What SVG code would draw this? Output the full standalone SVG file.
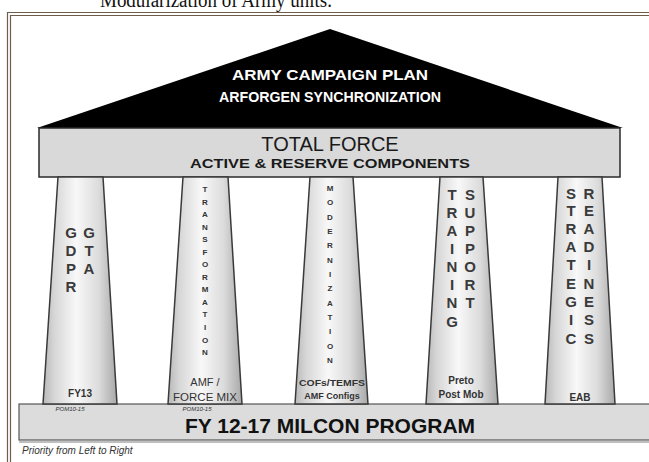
<svg xmlns="http://www.w3.org/2000/svg" width="649" height="462" viewBox="0 0 649 462">
<defs>
<linearGradient id="pg" x1="0" y1="0" x2="1" y2="0">
<stop offset="0" stop-color="#b8b8b8"/>
<stop offset="0.15" stop-color="#d6d6d6"/>
<stop offset="0.45" stop-color="#f8f8f8"/>
<stop offset="0.75" stop-color="#dcdcdc"/>
<stop offset="1" stop-color="#a8a8a8"/>
</linearGradient>
</defs>
<style>
.frame{fill:none;stroke:#6e5d48;stroke-width:1.2}
.pillar{fill:url(#pg);stroke:#3a3a3a;stroke-width:1.5}
.beam{fill:#d9d9d9;stroke:#2a2a2a;stroke-width:1.5}
.base{fill:#dcdcdc;stroke:#555;stroke-width:1.2}
.t{font-family:"Liberation Sans",Arial,sans-serif;text-anchor:middle}
.ped{fill:#fff;font-weight:bold;font-size:15px}
.big{fill:#1a1a1a;font-size:20px}
.sub{fill:#1a1a1a;font-weight:bold;font-size:13px}
.col{fill:#3a3a3a;font-size:15px;font-weight:bold}
.tiny{fill:#333;font-size:8px;font-weight:bold}
.foot{fill:#333;font-size:10px;font-weight:bold}
.pom{fill:#333;font-size:6px;font-style:italic}
</style>
<rect width="649" height="462" fill="#fff"/>
<text x="100" y="7" font-family="Liberation Serif,Times New Roman,serif" font-size="20" fill="#111" textLength="232" lengthAdjust="spacingAndGlyphs">Modularization of Army units.</text>
<g id="frame">
<path class="frame" d="M7.5,462 V12.5 H649"/>
<path class="frame" d="M10.5,462 V15.5 H649"/>
</g>
<g id="roof">
<polygon points="330,29 37,128 623,128" fill="#000"/>
<text class="t ped" x="330" y="80" textLength="196" lengthAdjust="spacingAndGlyphs">ARMY CAMPAIGN PLAN</text>
<text class="t ped" x="330" y="102" textLength="222" lengthAdjust="spacingAndGlyphs">ARFORGEN SYNCHRONIZATION</text>
</g>
<g id="total-force">
<rect class="beam" x="39" y="128" width="581" height="49"/>
<text class="t big" x="330" y="151">TOTAL FORCE</text>
<text class="t sub" x="330" y="168" textLength="280" lengthAdjust="spacingAndGlyphs">ACTIVE &amp; RESERVE COMPONENTS</text>
</g>
<g id="base">
<rect class="base" x="19" y="404" width="640" height="36"/>
<line x1="19" y1="442" x2="649" y2="442" stroke="#aaa" stroke-width="1.5"/>
<text class="t" x="330" y="433" font-size="21" font-weight="bold" fill="#111">FY 12-17 MILCON PROGRAM</text>
<text class="t pom" x="70" y="411">POM10-15</text>
<text class="t pom" x="197" y="411">POM10-15</text>
</g>
<g id="pillar-gdpr">
<polygon class="pillar" points="58,177 103,177 117,404 43,404"/>
<text class="t col"><tspan x="71" y="238">G</tspan><tspan x="71" y="256">D</tspan><tspan x="71" y="274">P</tspan><tspan x="71" y="292">R</tspan></text>
<text class="t col"><tspan x="89" y="238">G</tspan><tspan x="89" y="256">T</tspan><tspan x="89" y="274">A</tspan></text>
<text class="t foot" x="80" y="397">FY13</text>
</g>
<g id="pillar-transformation">
<polygon class="pillar" points="183,177 228,177 242,404 168,404"/>
<text class="t tiny"><tspan x="205" y="192">T</tspan><tspan x="205" y="204.5">R</tspan><tspan x="205" y="217">A</tspan><tspan x="205" y="229.6">N</tspan><tspan x="205" y="242.1">S</tspan><tspan x="205" y="254.7">F</tspan><tspan x="205" y="267.2">O</tspan><tspan x="205" y="279.8">R</tspan><tspan x="205" y="292.3">M</tspan><tspan x="205" y="304.9">A</tspan><tspan x="205" y="317.4">T</tspan><tspan x="205" y="330">I</tspan><tspan x="205" y="342.5">O</tspan><tspan x="205" y="355">N</tspan></text>
<text class="t" x="205" y="386" font-size="11" fill="#333" font-family="Liberation Sans,Arial,sans-serif">AMF /</text>
<text class="t" x="205" y="401" font-size="11.5" fill="#333" font-family="Liberation Sans,Arial,sans-serif">FORCE MIX</text>
</g>
<g id="pillar-modernization">
<polygon class="pillar" points="310,177 353,177 368,404 295,404"/>
<text class="t tiny"><tspan x="330" y="191">M</tspan><tspan x="330" y="205.3">O</tspan><tspan x="330" y="219.7">D</tspan><tspan x="330" y="234">E</tspan><tspan x="330" y="248.3">R</tspan><tspan x="330" y="262.7">N</tspan><tspan x="330" y="277">I</tspan><tspan x="330" y="291.3">Z</tspan><tspan x="330" y="305.7">A</tspan><tspan x="330" y="320">T</tspan><tspan x="330" y="334.3">I</tspan><tspan x="330" y="348.7">O</tspan><tspan x="330" y="363">N</tspan></text>
<text class="t" x="332" y="386" font-size="9" font-weight="bold" fill="#333" font-family="Liberation Sans,Arial,sans-serif" textLength="66" lengthAdjust="spacingAndGlyphs">COFs/TEMFS</text>
<text class="t" x="332" y="399" font-size="9" font-weight="bold" fill="#333" font-family="Liberation Sans,Arial,sans-serif">AMF Configs</text>
</g>
<g id="pillar-training-support">
<polygon class="pillar" points="440,177 483,177 498,404 426,404"/>
<text class="t col"><tspan x="452" y="200">T</tspan><tspan x="452" y="218">R</tspan><tspan x="452" y="236">A</tspan><tspan x="452" y="254">I</tspan><tspan x="452" y="272">N</tspan><tspan x="452" y="290">I</tspan><tspan x="452" y="308">N</tspan><tspan x="452" y="327">G</tspan></text>
<text class="t col"><tspan x="470" y="200">S</tspan><tspan x="470" y="218">U</tspan><tspan x="470" y="236">P</tspan><tspan x="470" y="254">P</tspan><tspan x="470" y="272">O</tspan><tspan x="470" y="290">R</tspan><tspan x="470" y="308">T</tspan></text>
<text class="t foot" x="461" y="384" font-size="9.5">Preto</text>
<text class="t foot" x="461" y="398" font-size="9.5">Post Mob</text>
</g>
<g id="pillar-strategic-readiness">
<polygon class="pillar" points="558,177 602,177 615,404 545,404"/>
<text class="t col"><tspan x="571" y="199">S</tspan><tspan x="571" y="216">T</tspan><tspan x="571" y="234">R</tspan><tspan x="571" y="252">A</tspan><tspan x="571" y="270">T</tspan><tspan x="571" y="289">E</tspan><tspan x="571" y="307">G</tspan><tspan x="571" y="325">I</tspan><tspan x="571" y="344">C</tspan></text>
<text class="t col"><tspan x="589" y="199">R</tspan><tspan x="589" y="216">E</tspan><tspan x="589" y="234">A</tspan><tspan x="589" y="252">D</tspan><tspan x="589" y="270">I</tspan><tspan x="589" y="289">N</tspan><tspan x="589" y="307">E</tspan><tspan x="589" y="325">S</tspan><tspan x="589" y="344">S</tspan></text>
<text class="t foot" x="580" y="401" font-size="9.5">EAB</text>
</g>
<g id="connectors"></g>
<text x="22" y="454" font-family="Liberation Sans,Arial,sans-serif" font-size="10" font-style="italic" fill="#333">Priority from Left to Right</text>
</svg>
